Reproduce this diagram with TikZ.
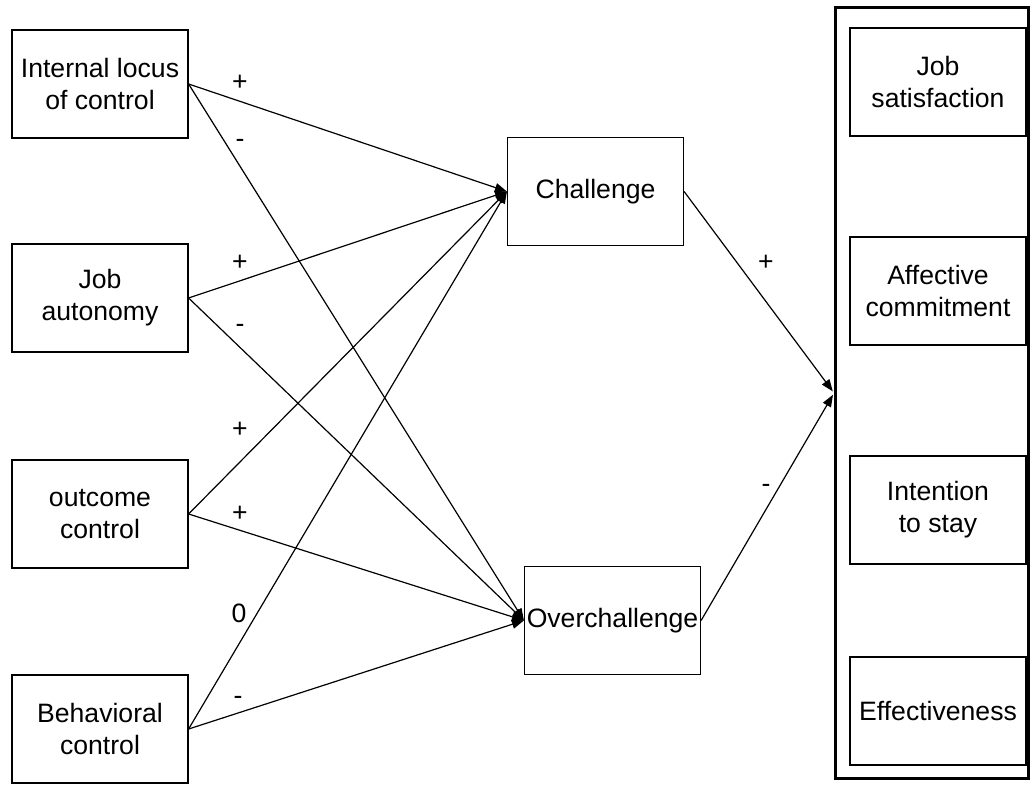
\documentclass[tikz,border=0pt]{standalone}
\usepackage{fontspec}
\setmainfont{Liberation Sans}
\usetikzlibrary{arrows.meta}

\tikzset{
  factor/.style={draw, line width=0.6pt, minimum width=88pt, minimum height=54pt,
    align=center, inner sep=0pt},
  link/.style={-{Triangle[length=6pt,width=4.5pt]}, line width=0.6pt},
  sign/.style={inner sep=0pt}
}

\begin{document}
\begin{tikzpicture}[x=0.5pt, y=-0.5pt, font=\fontsize{13.3}{16}\selectfont]
    \useasboundingbox (0,0) rectangle (1031,785);

    % antecedents
    \node[factor] (locus) at (100,84) {Internal locus\\of control};
    \node[factor] (autonomy) at (100,298) {Job\\autonomy};
    \node[factor] (outcome) at (100,514) {outcome\\control};
    \node[factor] (behav) at (100,729) {Behavioral\\control};

    % mediators
    \node[factor] (chal) at (595.5,191.5) {Challenge};
    \node[factor] (over) at (612.5,620.5) {Overchallenge};

    % outcomes
    \node[draw, line width=1.5pt, minimum width=96.5pt, minimum height=385.5pt] (outc) at (932,393) {};
    \node[factor] (sat) at (938,82) {Job\\satisfaction};
    \node[factor] (affect) at (938,291) {Affective\\commitment};
    \node[factor] (stay) at (938,510) {Intention\\to stay};
    \node[factor] (effect) at (938,711) {Effectiveness};

    \draw[link] (locus.east) -- (chal.west);
    \draw[link] (autonomy.east) -- (chal.west);
    \draw[link] (outcome.east) -- (chal.west);
    \draw[link] (behav.east) -- (chal.west);
    \draw[link] (locus.east) -- (over.west);
    \draw[link] (autonomy.east) -- (over.west);
    \draw[link] (outcome.east) -- (over.west);
    \draw[link] (behav.east) -- (over.west);
    \draw[link, shorten >=1pt] (chal.east) -- (outc.west);
    \draw[link, shorten >=1pt] (over.east) -- (outc.west);

    \node[sign] (s1) at (240,83) {+};
    \node[sign] (s2) at (240,143) {-};
    \node[sign] (s3) at (240,263) {+};
    \node[sign] (s4) at (240,328) {-};
    \node[sign] (s5) at (240,430) {+};
    \node[sign] (s6) at (240,514) {+};
    \node[sign] (s7) at (239,613) {0};
    \node[sign] (s8) at (238,700) {-};
    \node[sign] (s9) at (766,263) {+};
    \node[sign] (s10) at (766,488) {-};
\end{tikzpicture}
\end{document}
